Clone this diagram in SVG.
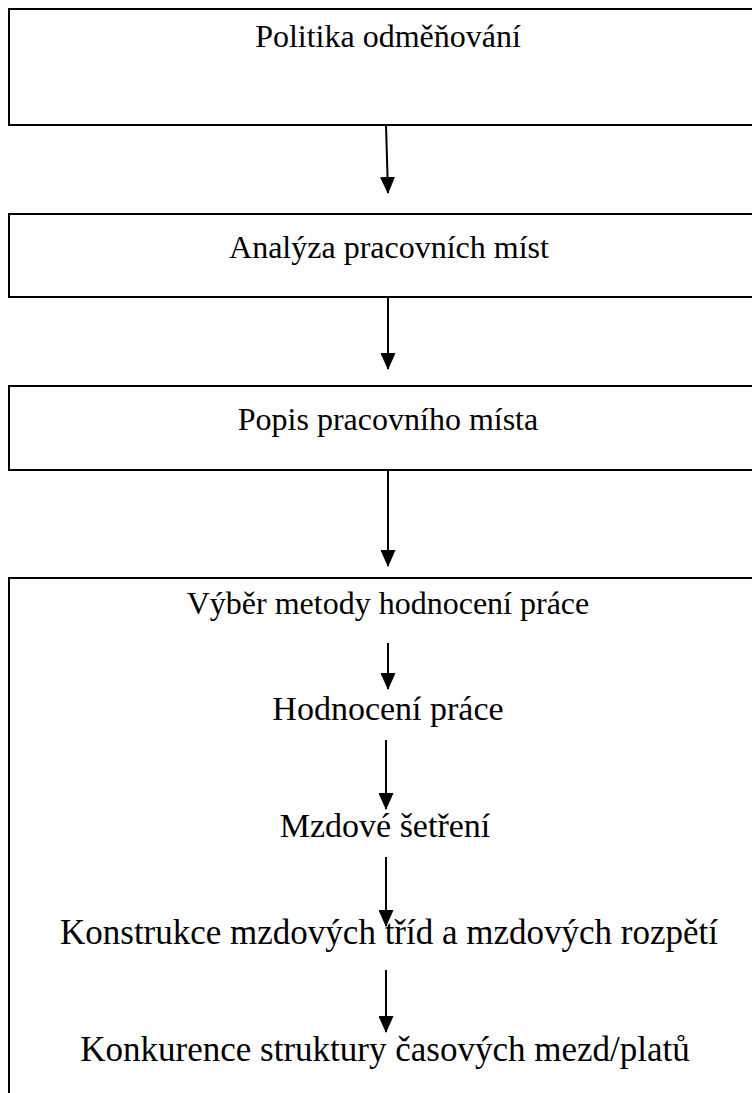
<svg xmlns="http://www.w3.org/2000/svg" width="752" height="1093" viewBox="0 0 752 1093">
  <style>
    .box { fill: #ffffff; stroke: #000000; stroke-width: 2; }
    .lbl { font-family: "Liberation Serif", "Times New Roman", Times, serif; font-size: 32px; fill: #000000; text-anchor: middle; }
    .mid { font-size: 34px; }
    .big { font-size: 35px; }
    .edge { stroke: #000000; stroke-width: 2; fill: none; marker-end: url(#head); }
  </style>
  <defs>
    <!-- solid triangular arrowhead, tip at the end of the line -->
    <marker id="head" viewBox="0 0 17 15" refX="16" refY="7.5" markerWidth="17" markerHeight="15" markerUnits="userSpaceOnUse" orient="auto">
      <path d="M0,0 L17,7.5 L0,15 Z" fill="#000000"/>
    </marker>
  </defs>
  <rect x="0" y="0" width="752" height="1093" fill="#ffffff"/>

  <g id="politika">
    <rect class="box" x="9" y="9" width="760" height="116"/>
    <text class="lbl" x="388" y="47">Politika odměňování</text>
  </g>
  <g id="analyza">
    <rect class="box" x="9" y="214" width="760" height="83"/>
    <text class="lbl" x="389" y="258">Analýza pracovních míst</text>
  </g>
  <g id="popis">
    <rect class="box" x="9" y="386" width="760" height="84"/>
    <text class="lbl" x="388" y="430">Popis pracovního místa</text>
  </g>
  <g id="hodnoceni">
    <rect class="box" x="9" y="578" width="760" height="530"/>
    <text class="lbl" x="388" y="614">Výběr metody hodnocení práce</text>
    <text class="lbl mid" x="388" y="720">Hodnocení práce</text>
    <text class="lbl mid" x="385" y="837">Mzdové šetření</text>
    <text class="lbl big" x="389" y="944">Konstrukce mzdových tříd a mzdových rozpětí</text>
    <text class="lbl big" x="385" y="1061">Konkurence struktury časových mezd/platů</text>
  </g>

  <g id="connectors">
    <path class="edge" d="M386,125 L388,193"/>
    <path class="edge" d="M388,297 L388,369"/>
    <path class="edge" d="M388,470 L388,566"/>
    <path class="edge" d="M388,643 L388,689"/>
    <path class="edge" d="M386,740 L386,809"/>
    <path class="edge" d="M386,857 L386,926"/>
    <path class="edge" d="M386,970 L386,1032"/>
  </g>
</svg>
